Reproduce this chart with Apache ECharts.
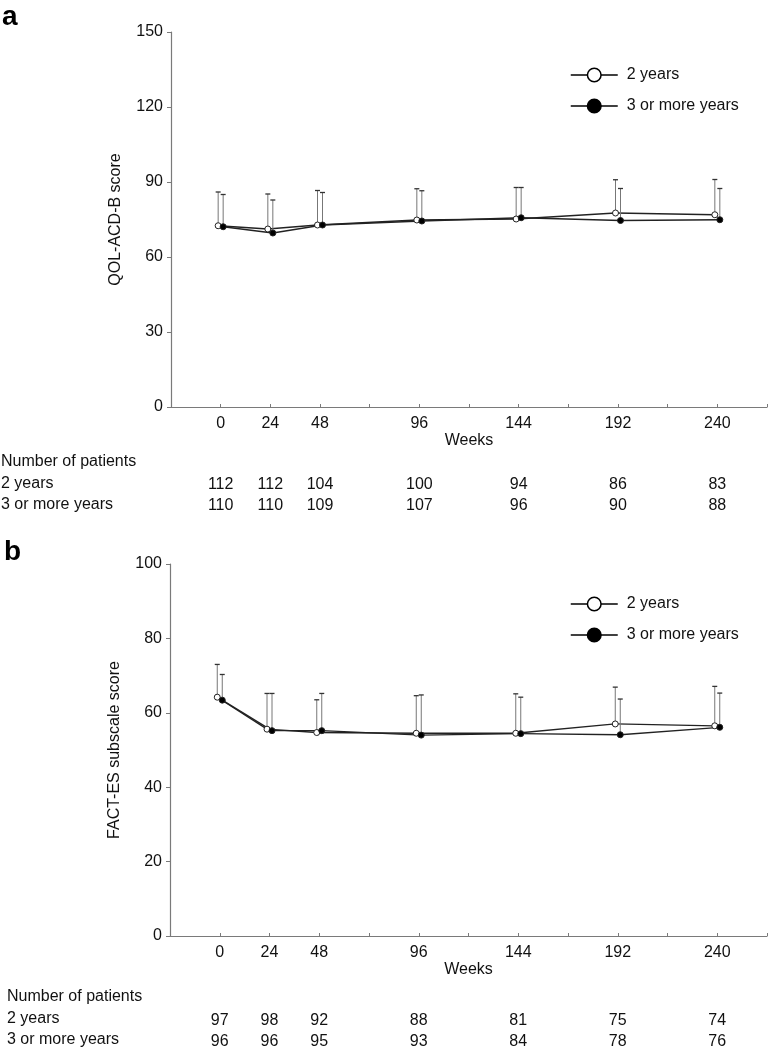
<!DOCTYPE html>
<html>
<head>
<meta charset="utf-8">
<script src="https://cdn.jsdelivr.net/npm/echarts@6/dist/echarts.min.js"></script>
<style>
  html, body { margin: 0; padding: 0; background: #fff; }
  #main { width: 780px; height: 1052px; }
</style>
</head>
<body>
<div id="main"></div>
<script>
const weeks = [0, 24, 48, 96, 144, 192, 240];
const groups = ['2 years', '3 or more years'];

// panel a: QOL-ACD-B score (mean and top of error bar)
const qolTwoMean = [72.5, 71.2, 72.8, 74.8, 75.2, 77.6, 76.9];
const qolTwoUpper = [86.0, 85.2, 86.6, 87.3, 87.8, 90.9, 91.0];
const qolThreeMean = [72.1, 69.6, 72.8, 74.4, 75.7, 74.6, 74.9];
const qolThreeUpper = [85.0, 82.8, 85.8, 86.5, 87.8, 87.4, 87.4];
const qolTwoN = [112, 112, 104, 100, 94, 86, 83];
const qolThreeN = [110, 110, 109, 107, 96, 90, 88];

// panel b: FACT-ES subscale score
const factTwoMean = [64.2, 55.6, 54.7, 54.5, 54.5, 57.0, 56.5];
const factTwoUpper = [73.0, 65.2, 63.5, 64.6, 65.1, 66.9, 67.1];
const factThreeMean = [63.4, 55.2, 55.2, 54.0, 54.4, 54.1, 56.1];
const factThreeUpper = [70.3, 65.2, 65.2, 64.8, 64.2, 63.7, 65.3];
const factTwoN = [97, 98, 92, 88, 81, 75, 74];
const factThreeN = [96, 96, 95, 93, 84, 78, 76];

const FONT = "'Liberation Sans', Arial, sans-serif";
const AXIS_GREY = '#7a7a7a';

const chart = echarts.init(document.getElementById('main'));

function weekAxis(grid, opts) {
  return Object.assign({
    type: 'value', gridIndex: grid, min: -24, max: 264, interval: 24,
    position: 'bottom', splitLine: { show: false }
  }, opts);
}

function mainX(grid) {
  return weekAxis(grid, {
    name: 'Weeks', nameLocation: 'middle', nameGap: 26,
    nameTextStyle: { fontFamily: FONT, fontSize: 16, color: '#111' },
    axisLine: { onZero: false, lineStyle: { color: AXIS_GREY, width: 1.2 } },
    axisTick: { inside: true, length: 3, lineStyle: { color: AXIS_GREY } },
    axisLabel: {
      margin: 9, fontFamily: FONT, fontSize: 16, color: '#111',
      formatter: v => weeks.indexOf(v) >= 0 ? String(v) : ''
    }
  });
}

function countX(grid, counts, offset) {
  return weekAxis(grid, {
    offset: offset,
    axisLine: { show: false, onZero: false }, axisTick: { show: false },
    axisLabel: {
      margin: 9, fontFamily: FONT, fontSize: 16, color: '#111',
      formatter: v => { const i = weeks.indexOf(v); return i >= 0 ? String(counts[i]) : ''; }
    }
  });
}

function scoreY(grid, name, max, interval) {
  return {
    type: 'value', gridIndex: grid, min: 0, max: max, interval: interval,
    name: name, nameLocation: 'middle', nameGap: 47,
    nameTextStyle: { fontFamily: FONT, fontSize: 16, color: '#111' },
    axisLine: { show: true, onZero: false, lineStyle: { color: AXIS_GREY, width: 1.2 } },
    axisTick: { show: true, length: 4, lineStyle: { color: AXIS_GREY } },
    axisLabel: { margin: 8, fontFamily: FONT, fontSize: 16, color: '#111' },
    splitLine: { show: false }
  };
}

// mean line + upper error bar + marker, nudged sideways by dx pixels
function meanSeries(name, grid, mean, upper, dx, filled) {
  return {
    type: 'custom', name: name, xAxisIndex: grid * 3, yAxisIndex: grid,
    data: weeks.map((w, i) => [w, mean[i], upper[i]]),
    encode: { x: 0, y: [1, 2] },
    clip: false, silent: true,
    renderItem: function (params, api) {
      const i = params.dataIndex;
      const p = api.coord([api.value(0), api.value(1)]);
      const t = api.coord([api.value(0), api.value(2)]);
      const x = p[0] + dx;
      const kids = [
        { type: 'line', shape: { x1: x, y1: p[1], x2: x, y2: t[1] }, style: { stroke: '#777', lineWidth: 1 } },
        { type: 'line', shape: { x1: x - 2.5, y1: t[1], x2: x + 2.5, y2: t[1] }, style: { stroke: '#333', lineWidth: 1.3 } }
      ];
      if (i < weeks.length - 1) {
        const q = api.coord([weeks[i + 1], mean[i + 1]]);
        kids.push({ type: 'line', shape: { x1: x, y1: p[1], x2: q[0] + dx, y2: q[1] }, style: { stroke: '#222', lineWidth: 1.3 } });
      }
      kids.push({
        type: 'circle', z2: 10, shape: { cx: x, cy: p[1], r: 3 },
        style: { fill: filled ? '#000' : '#fff', stroke: '#222', lineWidth: 1 }
      });
      return { type: 'group', children: kids };
    }
  };
}

function legendSeries(name, filled) {
  return {
    type: 'line', name: name, xAxisIndex: 0, yAxisIndex: 0, data: [],
    symbol: 'circle',
    itemStyle: { color: filled ? '#000' : '#fff', borderColor: '#000', borderWidth: 1.5 },
    lineStyle: { color: '#000', width: 1.5 }
  };
}

function legendAt(top) {
  return {
    orient: 'vertical', left: 565, top: top,
    itemWidth: 47, itemHeight: 17, itemGap: 15,
    selectedMode: false,
    textStyle: { fontFamily: FONT, fontSize: 16, color: '#111', padding: [0, 0, 0, 4] },
    data: [
      { name: groups[0], itemStyle: { color: '#fff', borderColor: '#000', borderWidth: 1.5 }, lineStyle: { color: '#000', width: 1.5 } },
      { name: groups[1], itemStyle: { color: '#000', borderColor: '#000', borderWidth: 1.5 }, lineStyle: { color: '#000', width: 1.5 } }
    ]
  };
}

function txt(text, x, y, extra) {
  return {
    type: 'text', x: x, y: y, silent: true,
    style: Object.assign({ text: text, font: '16px ' + FONT, fill: '#111', verticalAlign: 'middle' }, extra || {})
  };
}

const option = {
  animation: false,
  backgroundColor: '#fff',
  textStyle: { fontFamily: FONT },
  grid: [
    { left: 171, right: 13, top: 32, height: 375 },
    { left: 170, right: 13, top: 564, height: 372 }
  ],
  xAxis: [
    mainX(0), countX(0, qolTwoN, 61), countX(0, qolThreeN, 82),
    mainX(1), countX(1, factTwoN, 68), countX(1, factThreeN, 89)
  ],
  yAxis: [
    scoreY(0, 'QOL-ACD-B score', 150, 30),
    scoreY(1, 'FACT-ES subscale score', 100, 20)
  ],
  legend: [legendAt(62), legendAt(591)],
  series: [
    legendSeries(groups[0], false),
    legendSeries(groups[1], true),
    meanSeries('a-2', 0, qolTwoMean, qolTwoUpper, -2.5, false),
    meanSeries('a-3', 0, qolThreeMean, qolThreeUpper, 2.5, true),
    meanSeries('b-2', 1, factTwoMean, factTwoUpper, -2.5, false),
    meanSeries('b-3', 1, factThreeMean, factThreeUpper, 2.5, true)
  ],
  graphic: [
    txt('a', 2, 17, { font: 'bold 28px ' + FONT, fill: '#000' }),
    txt('Number of patients', 1, 462),
    txt('2 years', 1, 484),
    txt('3 or more years', 1, 505),
    txt('b', 4, 552, { font: 'bold 28px ' + FONT, fill: '#000' }),
    txt('Number of patients', 7, 997),
    txt('2 years', 7, 1019),
    txt('3 or more years', 7, 1040)
  ]
};

chart.setOption(option);
</script>
</body>
</html>
